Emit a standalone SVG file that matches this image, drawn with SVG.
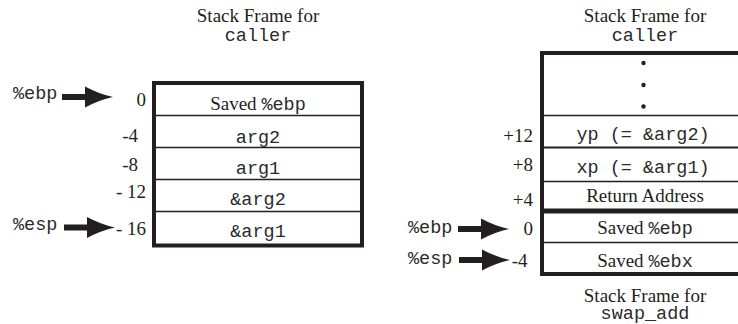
<svg xmlns="http://www.w3.org/2000/svg" xmlns:xlink="http://www.w3.org/1999/xlink" width="738" height="324" viewBox="0 0 738 324">
<style>
.serif{font-family:"Liberation Serif","Times New Roman",serif;font-size:19px;fill:#231f20}
.mono{font-family:"Liberation Mono","Courier New",monospace;font-size:18.5px;fill:#2b2b2b}
.mid{text-anchor:middle}
.end{text-anchor:end}
.frame{fill:#ffffff;stroke:#231f20;stroke-width:4}
.div{stroke:#231f20;stroke-width:1.3;fill:none}
.thick{stroke:#231f20;stroke-width:5;fill:none}
.arrow{fill:#231f20}
</style>
<defs>
<g id="arrow">
<rect x="-51" y="-3" width="25" height="6"/>
<path d="M-28,-10.5 Q-14,-3 0,0 Q-14,3 -28,10.5 Z"/>
</g>
</defs>
<rect width="738" height="324" fill="#ffffff"/>

<!-- Left: caller frame -->
<g id="left-title">
<text class="serif mid" x="258" y="22">Stack Frame for</text>
<text class="mono mid" x="258" y="41">caller</text>
</g>
<g id="left-frame">
<rect class="frame" x="154" y="83" width="208" height="162.5"/>
<line class="div" x1="156" y1="115.5" x2="360" y2="115.5"/>
<line class="div" x1="156" y1="147.5" x2="360" y2="147.5"/>
<line class="div" x1="156" y1="179.5" x2="360" y2="179.5"/>
<line class="div" x1="156" y1="211.5" x2="360" y2="211.5"/>
</g>
<g id="left-row0"><text class="serif mid" x="258" y="109.5">Saved <tspan class="mono">%ebp</tspan></text></g>
<g id="left-row1"><text class="mono mid" x="258" y="142.5">arg2</text></g>
<g id="left-row2"><text class="mono mid" x="258" y="173.5">arg1</text></g>
<g id="left-row3"><text class="mono mid" x="258" y="205">&amp;arg2</text></g>
<g id="left-row4"><text class="mono mid" x="258" y="237">&amp;arg1</text></g>
<g id="left-offsets">
<text class="serif end" x="146" y="106">0</text>
<text class="serif end" x="138" y="141.5">-4</text>
<text class="serif end" x="138" y="170.5">-8</text>
<text class="serif end" x="146" y="198">- 12</text>
<text class="serif end" x="146" y="235">- 16</text>
</g>
<g id="left-ebp"><text class="mono" x="13" y="99">%ebp</text></g>
<g id="left-esp"><text class="mono" x="13" y="229.5">%esp</text></g>

<!-- Right: swap_add frame -->
<g id="right-title">
<text class="serif mid" x="645" y="22">Stack Frame for</text>
<text class="mono mid" x="645" y="41">caller</text>
</g>
<g id="right-frame">
<rect class="frame" x="542" y="53" width="230" height="221"/>
<line class="div" x1="544" y1="115.5" x2="738" y2="115.5"/>
<line class="div" x1="544" y1="147.5" x2="738" y2="147.5" style="stroke-width:1.8"/>
<line class="div" x1="544" y1="181.5" x2="738" y2="181.5"/>
<line class="thick" x1="544" y1="211" x2="738" y2="211"/>
<line class="div" x1="544" y1="242.5" x2="738" y2="242.5"/>
</g>
<g id="right-dots" fill="#231f20">
<circle cx="643.5" cy="63" r="2.2"/>
<circle cx="643.5" cy="85" r="2.2"/>
<circle cx="643.5" cy="106.5" r="2.2"/>
</g>
<g id="right-row-yp"><text class="mono mid" x="643" y="140">yp (= &amp;arg2)</text></g>
<g id="right-row-xp"><text class="mono mid" x="643" y="173">xp (= &amp;arg1)</text></g>
<g id="right-row-ret"><text class="serif mid" x="645" y="202">Return Address</text></g>
<g id="right-row-ebp"><text class="serif mid" x="645" y="233.5">Saved <tspan class="mono">%ebp</tspan></text></g>
<g id="right-row-ebx"><text class="serif mid" x="645" y="266.5">Saved <tspan class="mono">%ebx</tspan></text></g>
<g id="right-offsets">
<text class="serif end" x="533" y="141.5">+12</text>
<text class="serif end" x="533" y="170.5">+8</text>
<text class="serif end" x="533" y="206">+4</text>
<text class="serif end" x="533" y="235">0</text>
<text class="serif end" x="527.5" y="266.5">-4</text>
</g>
<g id="right-ebp"><text class="mono" x="408" y="232.5">%ebp</text></g>
<g id="right-esp"><text class="mono" x="408" y="263.5">%esp</text></g>
<g id="bottom-title">
<text class="serif mid" x="645" y="301.5">Stack Frame for</text>
<text class="mono mid" x="645" y="319">swap_add</text>
</g>

<g id="connectors" class="arrow">
<use xlink:href="#arrow" href="#arrow" transform="translate(113,97)"/>
<use xlink:href="#arrow" href="#arrow" transform="translate(115,227.5)"/>
<use xlink:href="#arrow" href="#arrow" transform="translate(509,229)"/>
<use xlink:href="#arrow" href="#arrow" transform="translate(510,260)"/>
</g>
</svg>
